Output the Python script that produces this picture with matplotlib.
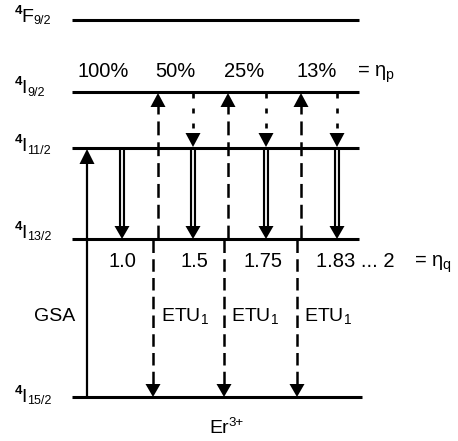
import matplotlib
matplotlib.use("Agg")
import matplotlib.pyplot as plt

plt.rcParams['font.family'] = ['Liberation Sans', 'DejaVu Sans']
plt.rcParams['mathtext.fontset'] = 'custom'
plt.rcParams['mathtext.rm'] = 'Liberation Sans'
plt.rcParams['mathtext.it'] = 'Liberation Sans'
plt.rcParams['mathtext.bf'] = 'Liberation Sans:bold'
plt.rcParams['lines.scale_dashes'] = False

# energy levels of Er3+ (vertical position on the drawing, top = 0)
level_main = ['F', 'I', 'I', 'I', 'I']
level_sub = ['9/2', '9/2', '11/2', '13/2', '15/2']
level_y = [20, 92, 148, 239, 397]
label_dy = [2, 1, 3, -1, 5]

# populations / quantum efficiencies
eta_p = ['100%', '50%', '25%', '13%']
eta_p_x = [103, 175, 244, 317]
eta_q = ['1.0', '1.5', '1.75']
eta_q_x = [122, 194, 263]

gsa_x = 87
relax_x = [122, 193, 266, 337]      # 4I11/2 -> 4I13/2 (double arrows)
dotted_x = [193, 266, 337]         # 4I9/2 -> 4I11/2
etu_up_x = [158, 228, 301]         # 4I11/2 -> 4I9/2
etu_down_x = [153, 224, 297]       # 4I13/2 -> 4I15/2

F9, I9, I11, I13, I15 = level_y

fig = plt.figure(figsize=(4.58, 4.41), dpi=100)
ax = fig.add_axes([0, 0, 1, 1])
ax.set_xlim(0, 458)
ax.set_ylim(441, 0)
ax.axis('off')
renderer = fig.canvas.get_renderer()


def right_edge(t):
    bb = t.get_window_extent(renderer)
    return ax.transData.inverted().transform((bb.x1, bb.y0))[0]


def head(x, tip, up, w=15, h=14):
    s = 1 if up else -1
    ax.fill([x - w / 2, x + w / 2, x], [tip + s * h, tip + s * h, tip], color='black', lw=0, zorder=4)


def arrow(x, start, tip, dashes=None, lw=1.6, h=14):
    up = tip < start
    s = 1 if up else -1
    kw = {}
    if dashes:
        kw['dashes'] = dashes
    ax.plot([x, x], [start, tip + s * (h - 1)], color='black', lw=lw, solid_capstyle='butt',
            dash_capstyle='butt', zorder=3, **kw)
    head(x, tip, up, h=h)


def double_arrow(x, start, tip, h=13):
    end = tip - (h - 1)
    ax.plot([x, x], [start, end], color='black', lw=4.4, solid_capstyle='butt', zorder=3)
    ax.plot([x, x], [start + 1.5, end], color='white', lw=1.3, solid_capstyle='butt', zorder=3)
    head(x, tip, False, h=h)


# levels
for main, sub, y, dy in zip(level_main, level_sub, level_y, label_dy):
    x1 = 362 if y == I15 else 359
    ax.plot([72, x1], [y, y], color='black', lw=2.2, solid_capstyle='butt', zorder=2)
    base = y + dy
    ax.text(14.5, base - 8, '4', fontsize=9.5, weight='bold', ha='left', va='baseline')
    t = ax.text(21, base, main, fontsize=14, ha='left', va='baseline')
    ax.text(right_edge(t) + 0.5, base + 2.5, sub, fontsize=9, ha='left', va='baseline')

# GSA
arrow(gsa_x, I15, I11 + 1, lw=1.6, h=15)
ax.text(55, 321, 'GSA', fontsize=14, ha='center', va='baseline')

for x in relax_x:
    double_arrow(x, I11, I13)

for x in dotted_x:
    arrow(x, I9 + 1, I11 - 1, dashes=(3.6, 7.2), lw=1.9, h=14)

for x in etu_up_x:
    arrow(x, I13, I9 + 1, dashes=(10, 5), lw=1.8, h=14)
    ax.text(x + 3, 321, r'ETU$_1$', fontsize=14, ha='left', va='baseline')

for x in etu_down_x:
    arrow(x, I13 + 1, I15, dashes=(9, 4.5), lw=1.8, h=13)

for t, x in zip(eta_p, eta_p_x):
    ax.text(x, 77, t, fontsize=14.5, ha='center', va='baseline')
ax.text(357, 77, r'= $\eta_\mathrm{p}$', fontsize=14.5, ha='left', va='baseline')

for t, x in zip(eta_q, eta_q_x):
    ax.text(x, 267, t, fontsize=14.5, ha='center', va='baseline')
ax.text(316, 267, '1.83 ... 2', fontsize=14.5, ha='left', va='baseline')
ax.text(414, 267, r'= $\eta_\mathrm{q}$', fontsize=14.5, ha='left', va='baseline')

t = ax.text(209, 433, 'Er', fontsize=14, ha='left', va='baseline')
ax.text(right_edge(t), 426, '3+', fontsize=9.5, ha='left', va='baseline')

fig.savefig('out.png', dpi=100, facecolor='white')
